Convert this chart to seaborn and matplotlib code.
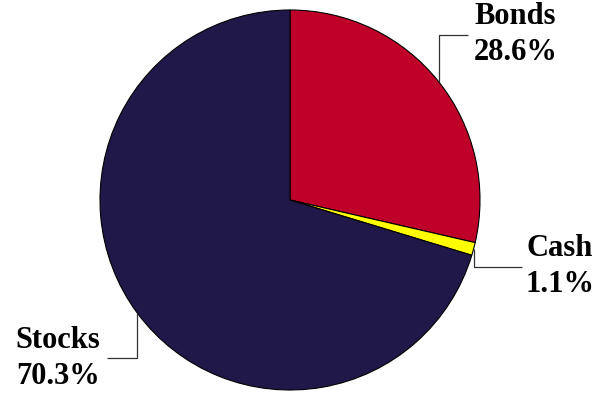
import numpy as np
import matplotlib
matplotlib.use("Agg")
import matplotlib.pyplot as plt
import seaborn as sns

# Portfolio allocation
categories = ["Bonds", "Cash", "Stocks"]
shares = [28.6, 1.1, 70.3]
colors = ["#BF0028", "#FFFF00", "#201848"]

sns.set_theme(style="white")
plt.rcParams["font.family"] = ["Liberation Serif", "DejaVu Serif"]

W, H = 598, 393
fig = plt.figure(figsize=(W / 100, H / 100), dpi=100)
ax = fig.add_axes([0, 0, 1, 1])

cx, cy, r = 290, H - 200, 190
wedges, _ = ax.pie(shares, colors=sns.color_palette(colors), startangle=90,
                   counterclock=False, center=(cx, cy), radius=r,
                   wedgeprops=dict(edgecolor="black", linewidth=0.8))

ax.set_xlim(0, W)
ax.set_ylim(0, H)
ax.set_aspect("equal")
ax.axis("off")

# leader layout: (elbow y, horizontal end x, text x, text align, name y, pct y)
layout = {
    "Bonds": (H - 35, 468, 474, "left", H - 17, H - 52),
    "Cash": (H - 267, 522, 526, "left", H - 249, H - 285),
    "Stocks": (H - 358, 107, 100, "right", H - 340, H - 377),
}

for w, name, val in zip(wedges, categories, shares):
    mid = np.deg2rad((w.theta1 + w.theta2) / 2)
    ex, ey = cx + r * np.cos(mid), cy + r * np.sin(mid)
    elby, hx, tx, ha, ny, py = layout[name]
    ax.plot([ex, ex, hx], [ey, elby, elby], color="#333333", lw=0.9,
            solid_capstyle="butt")
    ax.text(tx, ny, name, ha=ha, va="center", fontsize=22, fontweight="bold",
            color="black")
    ax.text(tx, py, f"{val:.1f}%", ha=ha, va="center", fontsize=22,
            fontweight="bold", color="black")

fig.savefig("out.png", dpi=100)
